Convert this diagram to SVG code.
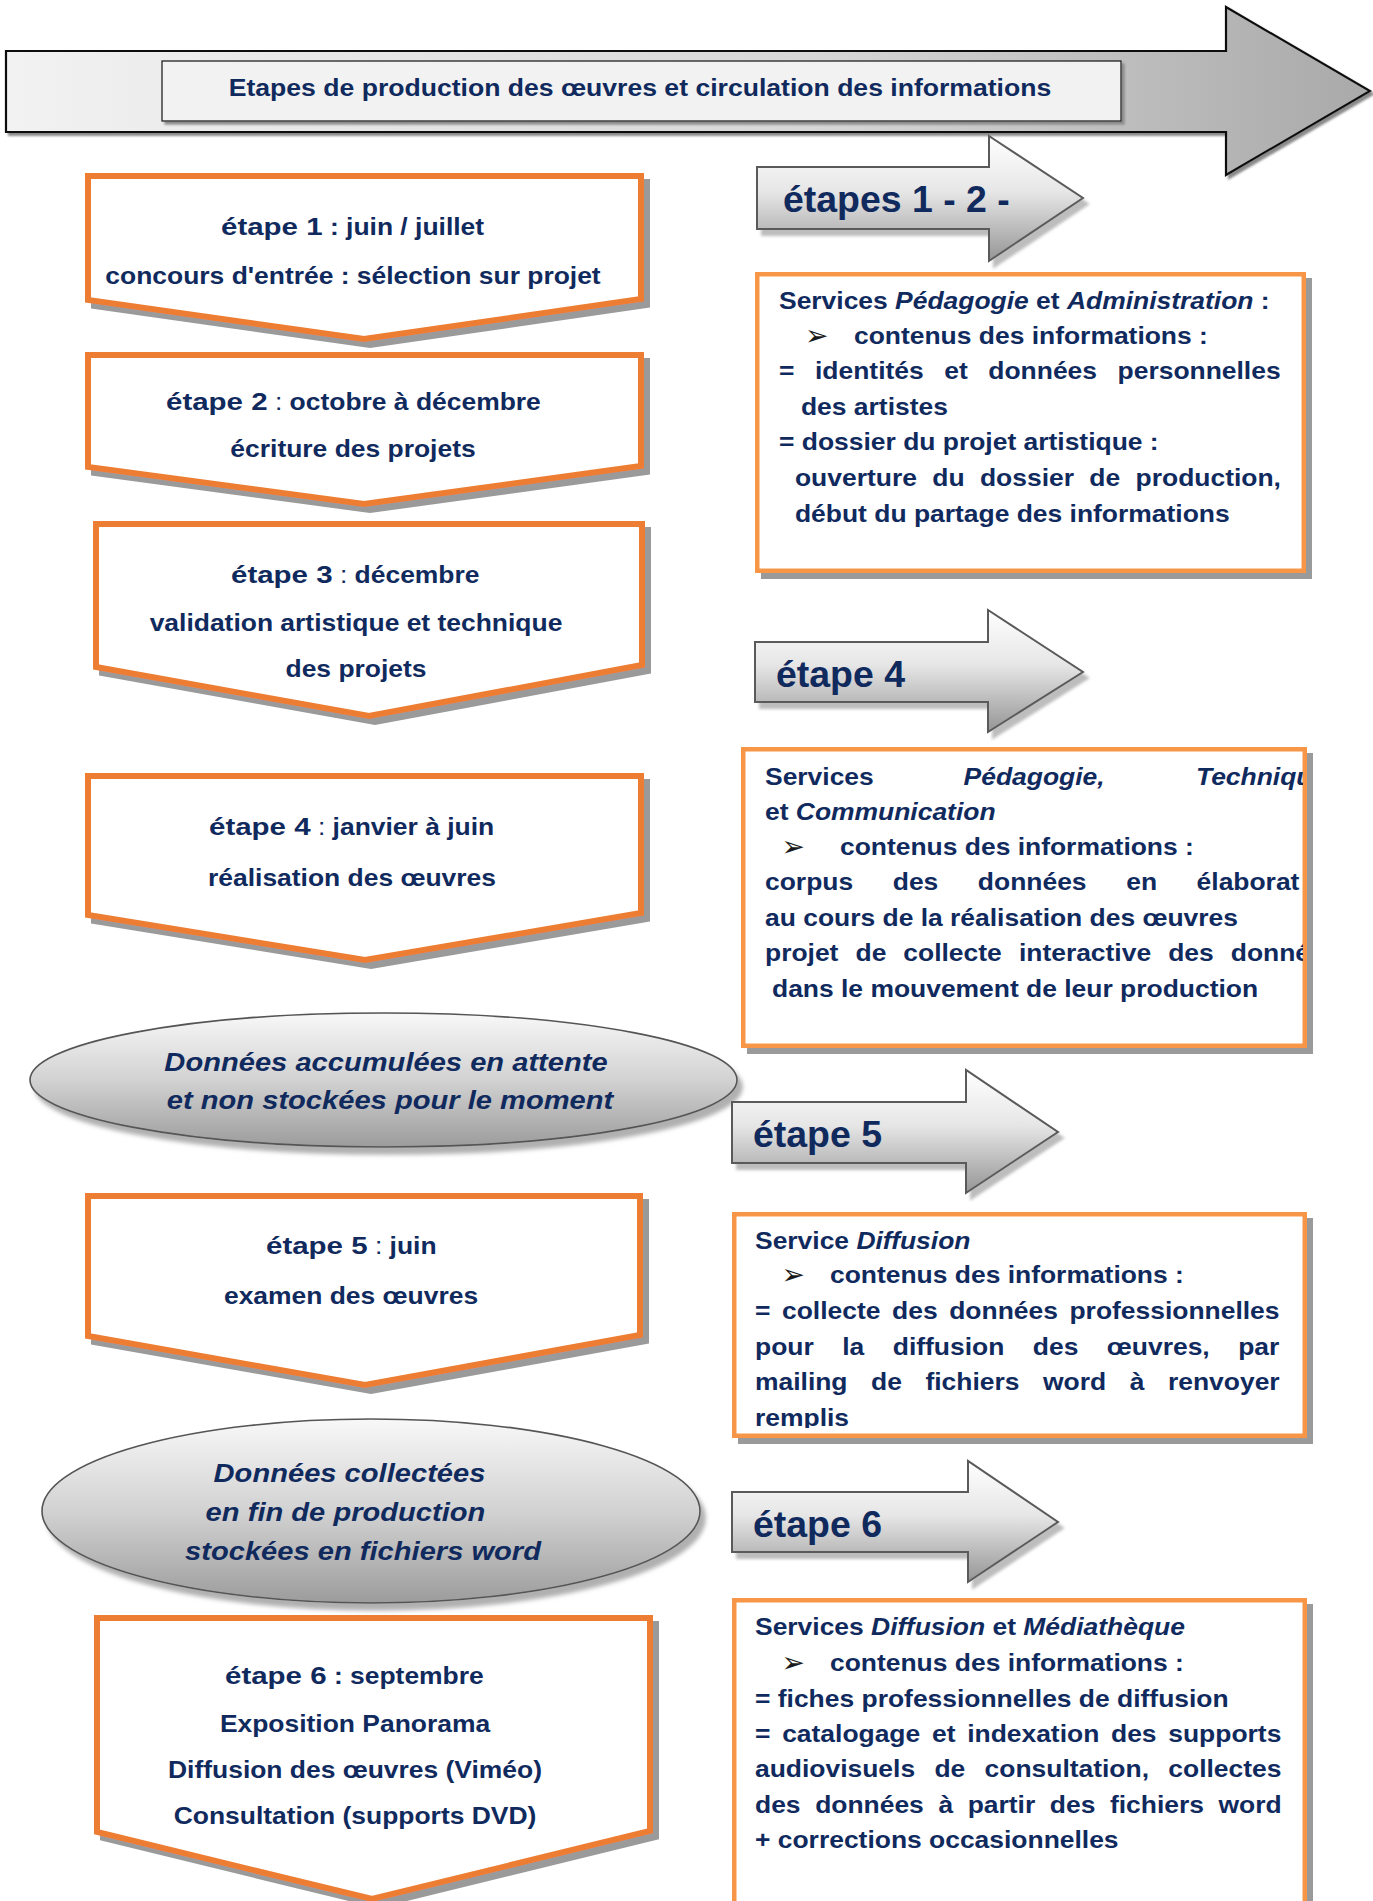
<svg xmlns="http://www.w3.org/2000/svg" width="1373" height="1901" viewBox="0 0 1373 1901">
<style>
.t{font-family:"Liberation Sans",Arial,sans-serif;font-weight:bold;font-size:23px;fill:#102a5e}
.i{font-style:italic}
.r{font-weight:normal}
.big{font-size:36px}
.ell{font-size:26px;font-style:italic}
.ttl{font-size:24px}
.m{text-anchor:middle}
.arr{font-family:"DejaVu Sans",sans-serif;font-size:28px;fill:#1a1a1a}
.ob{fill:#ffffff;stroke:#ED7D31;stroke-width:6;stroke-linejoin:miter}
.rb{fill:#ffffff;stroke:#F79646;stroke-width:4.5}
.ga{fill:url(#gArrow);stroke:#5a5a5a;stroke-width:2}
.el{fill:url(#gEll);stroke:#555555;stroke-width:1.6}
</style>
<defs>
<linearGradient id="gTop" x1="0" y1="0" x2="1" y2="0">
<stop offset="0" stop-color="#f2f2f2"/><stop offset="0.6" stop-color="#d6d6d6"/><stop offset="1" stop-color="#a9a9a9"/>
</linearGradient>
<linearGradient id="gArrow" x1="0" y1="0" x2="0" y2="1">
<stop offset="0" stop-color="#ffffff"/><stop offset="0.45" stop-color="#e6e6e6"/><stop offset="1" stop-color="#959595"/>
</linearGradient>
<linearGradient id="gEll" x1="0" y1="0" x2="0" y2="1">
<stop offset="0" stop-color="#f8f8f8"/><stop offset="0.5" stop-color="#d2d2d2"/><stop offset="1" stop-color="#9c9c9c"/>
</linearGradient>
<filter id="shBox" x="-5%" y="-5%" width="115%" height="120%"><feDropShadow dx="6" dy="6" stdDeviation="0.6" flood-color="#9a9a9a" flood-opacity="1"/></filter>
<filter id="shArr" x="-5%" y="-5%" width="120%" height="125%"><feDropShadow dx="5" dy="6" stdDeviation="1.5" flood-color="#bdbdbd" flood-opacity="1"/></filter>
<filter id="shTop" x="-2%" y="-5%" width="105%" height="120%"><feDropShadow dx="3" dy="3" stdDeviation="0.8" flood-color="#8a8a8a" flood-opacity="1"/></filter>
<filter id="shEll" x="-5%" y="-10%" width="115%" height="130%"><feDropShadow dx="5" dy="7" stdDeviation="2" flood-color="#b0b0b0" flood-opacity="1"/></filter>
<clipPath id="cR2"><rect x="740" y="750" width="563" height="300"/></clipPath>
<clipPath id="cR3"><rect x="730" y="1214" width="573" height="214"/></clipPath>
</defs>
<rect width="1373" height="1901" fill="#ffffff"/>

<g id="header">
<polygon points="6,51 1226,51 1226,7 1370,91 1226,175 1226,132 6,132" fill="url(#gTop)" stroke="#111111" stroke-width="2.2" filter="url(#shTop)"/>
<rect x="162" y="61" width="959" height="60" fill="#f2f2f2" stroke="#222222" stroke-width="1.3" filter="url(#shTop)"/>
<g transform="matrix(1.108 0 0 1 640 0)"><text class="t ttl m" x="0" y="96">Etapes de production des œuvres et circulation des informations</text></g>
</g>

<g id="etape1">
<path class="ob" filter="url(#shBox)" d="M88,176 H641 V299 L364,339 L88,300 Z"/>
<g transform="matrix(1.15 0 0 1 221 0)"><text class="t" x="0" y="235" font-size="25" textLength="88.3" lengthAdjust="spacingAndGlyphs">étape 1</text><text class="t" x="94.7" y="235">: juin / juillet</text></g>
<g transform="matrix(1.15 0 0 1 353 0)"><text class="t m" x="0" y="284">concours d'entrée : sélection sur projet</text></g>
</g>

<g id="etape2">
<path class="ob" filter="url(#shBox)" d="M88,355 H641 V466 L364,504 L88,467 Z"/>
<g transform="matrix(1.15 0 0 1 166 0)"><text class="t" x="0" y="410" font-size="25" textLength="88.3" lengthAdjust="spacingAndGlyphs">étape 2</text><text class="t" x="94.7" y="410"><tspan class="r">:</tspan> octobre à décembre</text></g>
<g transform="matrix(1.15 0 0 1 353 0)"><text class="t m" x="0" y="457">écriture des projets</text></g>
</g>

<g id="etape3">
<path class="ob" filter="url(#shBox)" d="M96,524 H642 V665 L369,716 L96,667 Z"/>
<g transform="matrix(1.15 0 0 1 231 0)"><text class="t" x="0" y="583" font-size="25" textLength="88.3" lengthAdjust="spacingAndGlyphs">étape 3</text><text class="t" x="94.7" y="583"><tspan class="r">:</tspan> décembre</text></g>
<g transform="matrix(1.15 0 0 1 356 0)"><text class="t m" x="0" y="631">validation artistique et technique</text><text class="t m" x="0" y="677">des projets</text></g>
</g>

<g id="etape4">
<path class="ob" filter="url(#shBox)" d="M88,776 H641 V913 L365,960 L88,915 Z"/>
<g transform="matrix(1.15 0 0 1 209 0)"><text class="t" x="0" y="835" font-size="25" textLength="88.3" lengthAdjust="spacingAndGlyphs">étape 4</text><text class="t" x="94.7" y="835"><tspan class="r">:</tspan> janvier à juin</text></g>
<g transform="matrix(1.15 0 0 1 352 0)"><text class="t m" x="0" y="886">réalisation des œuvres</text></g>
</g>

<g id="donnees-attente">
<ellipse class="el" filter="url(#shEll)" cx="383.5" cy="1080" rx="353.5" ry="67"/>
<g transform="matrix(1.12 0 0 1 386 0)"><text class="t ell m" x="0" y="1071">Données accumulées en attente</text></g>
<g transform="matrix(1.12 0 0 1 390 0)"><text class="t ell m" x="0" y="1109">et non stockées pour le moment</text></g>
</g>

<g id="etape5">
<path class="ob" filter="url(#shBox)" d="M88,1196 H640 V1335 L365,1385 L88,1336 Z"/>
<g transform="matrix(1.15 0 0 1 266 0)"><text class="t" x="0" y="1254" font-size="25" textLength="88.3" lengthAdjust="spacingAndGlyphs">étape 5</text><text class="t" x="94.7" y="1254"><tspan class="r">:</tspan> juin</text></g>
<g transform="matrix(1.15 0 0 1 351 0)"><text class="t m" x="0" y="1304">examen des œuvres</text></g>
</g>

<g id="donnees-collectees">
<ellipse class="el" filter="url(#shEll)" cx="371" cy="1511" rx="329" ry="92"/>
<g transform="matrix(1.12 0 0 1 349.5 0)"><text class="t ell m" x="0" y="1482">Données collectées</text></g>
<g transform="matrix(1.12 0 0 1 345.5 0)"><text class="t ell m" x="0" y="1521">en fin de production</text></g>
<g transform="matrix(1.12 0 0 1 363 0)"><text class="t ell m" x="0" y="1560">stockées en fichiers word</text></g>
</g>

<g id="etape6">
<path class="ob" filter="url(#shBox)" d="M97,1618 H650 V1831 L372,1899 L97,1832 Z"/>
<g transform="matrix(1.15 0 0 1 225 0)"><text class="t" x="0" y="1684" font-size="25" textLength="88.3" lengthAdjust="spacingAndGlyphs">étape 6</text><text class="t" x="94.7" y="1684">: septembre</text></g>
<g transform="matrix(1.15 0 0 1 355 0)"><text class="t m" x="0" y="1732">Exposition Panorama</text><text class="t m" x="0" y="1778">Diffusion des œuvres (Viméo)</text><text class="t m" x="0" y="1824">Consultation (supports DVD)</text></g>
</g>

<g id="fleche-etapes-1-2">
<polygon class="ga" filter="url(#shArr)" points="757,167 989,167 989,136 1083,198 989,261 989,229 757,229"/>
<g transform="matrix(1.04 0 0 1 783 0)"><text class="t big" x="0" y="212">étapes 1 - 2 -</text></g>
</g>

<g id="services-1-2">
<rect class="rb" filter="url(#shBox)" x="757.25" y="274.25" width="546.5" height="296.5"/>
<text class="arr" x="805" y="345">➢</text>
<g transform="matrix(1.15 0 0 1 779 0)">
<text class="t" x="0" y="309">Services <tspan class="i">Pédagogie</tspan> et <tspan class="i">Administration</tspan> :</text>
<text class="t" x="65.2" y="344">contenus des informations :</text>
<text class="t" x="0" y="379" style="word-spacing:11.5px">= identités et données personnelles</text>
<text class="t" x="19.1" y="415">des artistes</text>
<text class="t" x="0" y="450">= dossier du projet artistique :</text>
<text class="t" x="13.9" y="486" style="word-spacing:7px">ouverture du dossier de production,</text>
<text class="t" x="13.9" y="522">début du partage des informations</text>
</g>
</g>

<g id="fleche-etape-4">
<polygon class="ga" filter="url(#shArr)" points="755,642 988,642 988,610 1083,672 988,732 988,702 755,702"/>
<g transform="matrix(1.04 0 0 1 776 0)"><text class="t big" x="0" y="687">étape 4</text></g>
</g>

<g id="services-4">
<rect class="rb" filter="url(#shBox)" x="743.25" y="749.25" width="561.5" height="296.5"/>
<text class="arr" x="781.5" y="856">➢</text>
<g clip-path="url(#cR2)">
<g transform="matrix(1.15 0 0 1 765 0)">
<text class="t" y="785"><tspan x="0">Services</tspan><tspan class="i" x="172.7">Pédagogie,</tspan><tspan class="i" x="374.8">Techniqu</tspan></text>
<text class="t" x="0" y="820">et <tspan class="i">Communication</tspan></text>
<text class="t" x="65.2" y="855">contenus des informations :</text>
<text class="t" y="890"><tspan x="0">corpus</tspan><tspan x="111.1">des</tspan><tspan x="185.1">données</tspan><tspan x="314.1">en</tspan><tspan x="375.3">élaborat</tspan></text>
<text class="t" x="0" y="926">au cours de la réalisation des œuvres</text>
<text class="t" y="961"><tspan x="0">projet</tspan><tspan x="78.7">de</tspan><tspan x="120.3">collecte</tspan><tspan x="220.8">interactive</tspan><tspan x="350.6">des</tspan><tspan x="405">donné</tspan></text>
<text class="t" x="6.1" y="997">dans le mouvement de leur production</text>
</g>
</g>
</g>

<g id="fleche-etape-5">
<polygon class="ga" filter="url(#shArr)" points="732,1102 966,1102 966,1070 1058,1132 966,1193 966,1163 732,1163"/>
<g transform="matrix(1.04 0 0 1 753 0)"><text class="t big" x="0" y="1147">étape 5</text></g>
</g>

<g id="service-5">
<rect class="rb" filter="url(#shBox)" x="734.25" y="1214.25" width="570.5" height="221.5"/>
<text class="arr" x="781.5" y="1284">➢</text>
<g clip-path="url(#cR3)">
<g transform="matrix(1.15 0 0 1 755 0)">
<text class="t" x="0" y="1249">Service <tspan class="i">Diffusion</tspan></text>
<text class="t" x="65.2" y="1283">contenus des informations :</text>
<text class="t" x="0" y="1319" style="word-spacing:3.7px">= collecte des données professionnelles</text>
<text class="t" x="0" y="1355" style="word-spacing:18.4px">pour la diffusion des œuvres, par</text>
<text class="t" x="0" y="1390" style="word-spacing:14.1px">mailing de fichiers word à renvoyer</text>
<text class="t" x="0" y="1426">remplis</text>
</g>
</g>
</g>

<g id="fleche-etape-6">
<polygon class="ga" filter="url(#shArr)" points="732,1492 968,1492 968,1461 1058,1522 968,1582 968,1552 732,1552"/>
<g transform="matrix(1.04 0 0 1 753 0)"><text class="t big" x="0" y="1537">étape 6</text></g>
</g>

<g id="services-6">
<rect class="rb" filter="url(#shBox)" x="734.25" y="1600.25" width="570.5" height="330"/>
<text class="arr" x="781.5" y="1672">➢</text>
<g transform="matrix(1.15 0 0 1 755 0)">
<text class="t" x="0" y="1635">Services <tspan class="i">Diffusion</tspan> et <tspan class="i">Médiathèque</tspan></text>
<text class="t" x="65.2" y="1671">contenus des informations :</text>
<text class="t" x="0" y="1707">= fiches professionnelles de diffusion</text>
<text class="t" x="0" y="1742" style="word-spacing:3.8px">= catalogage et indexation des supports</text>
<text class="t" x="0" y="1777" style="word-spacing:10.4px">audiovisuels de consultation, collectes</text>
<text class="t" x="0" y="1813" style="word-spacing:6.3px">des données à partir des fichiers word</text>
<text class="t" x="0" y="1848">+ corrections occasionnelles</text>
</g>
</g>
</svg>
